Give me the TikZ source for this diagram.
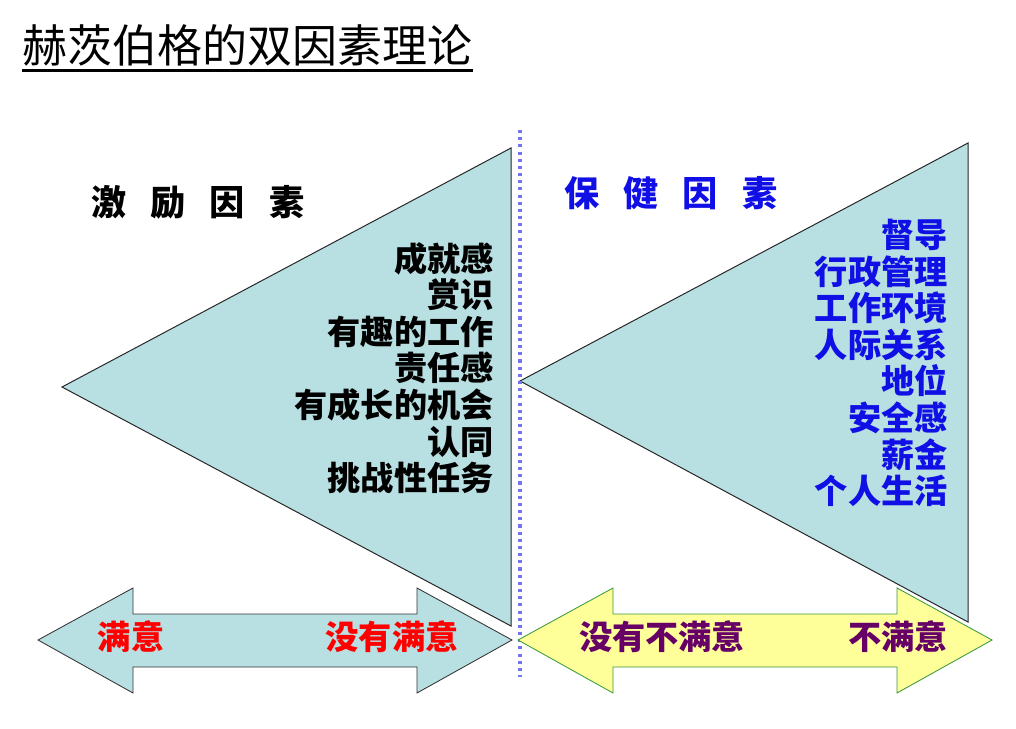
\documentclass[tikz,border=0pt]{standalone}
\usepackage{fontspec}
\setmainfont{Liberation Sans}
\newfontfamily\cjk{Noto Sans CJK SC}
\usepackage{xcolor}
\usetikzlibrary{positioning,calc}

\definecolor{tealfill}{HTML}{B8DFE1}
\definecolor{yellowfill}{HTML}{FFFF99}
\definecolor{arrowgreen}{HTML}{3A9A3A}
\definecolor{hygblue}{HTML}{1010E6}
\definecolor{dotblue}{HTML}{7474EC}
\definecolor{darkpurple}{HTML}{660066}

\begin{document}
\begin{tikzpicture}[
    x=0.025cm, y=-0.025cm,
    font=\cjk\bfseries,
    tri/.style={
        draw=black!85,
        fill=tealfill,
        line width=0.7pt,
        line join=miter
    },
    bigarrow/.style={
        draw=black!80,
        fill=tealfill,
        line width=0.6pt
    },
    yelarrow/.style={
        draw=arrowgreen,
        fill=yellowfill,
        line width=0.6pt
    },
    head/.style={
        font=\cjk\bfseries\fontsize{25}{28}\selectfont,
        inner sep=0pt
    },
    factors/.style={
        font=\cjk\bfseries\fontsize{23.6}{26}\selectfont,
        align=right,
        inner sep=0pt,
        anchor=east
    },
    pole/.style={
        font=\cjk\bfseries\fontsize{23.6}{26}\selectfont,
        inner sep=0pt
    }
]
\useasboundingbox (0,0) rectangle (1016,728);

% title
\node[anchor=base west, inner sep=0pt,
      font=\cjk\mdseries\fontsize{32}{36}\selectfont] (title) at (22,63)
{赫茨伯格的双因素理论};
\draw[line width=2pt] ([yshift=-5.4pt]title.base west) -- ([yshift=-5.4pt]title.base east);

% triangles
\coordinate (mtip) at (62,387);
\coordinate (mtop) at (511,148);
\coordinate (mbot) at (511,626);
\coordinate (htip) at (520,381);
\coordinate (htop) at (968,143);
\coordinate (hbot) at (968,622);
\draw[tri] (mtip) -- (mtop) -- (mbot) -- cycle;
\draw[tri] (htip) -- (htop) -- (hbot) -- cycle;

% separator
\coordinate (sepa) at (520,130);
\coordinate (sepb) at (520,677);
\draw[dotblue, line width=2.2pt, dash pattern=on 2.2pt off 2.9pt] (sepa) -- (sepb);

% headings
\node[head] (motiv) at (198,202) {激\kern17pt 励\kern17pt 因\kern17pt 素};
\node[head, text=hygblue] (hyg) at (671,193) {保\kern17pt 健\kern17pt 因\kern17pt 素};

% factor lists
\node[factors] (mlist) at (494,368)
{成就感\\
赏识\\
有趣的工作\\
责任感\\
有成长的机会\\
认同\\
挑战性任务};

\node[factors, text=hygblue] (hlist) at (948,363)
{督导\\
行政管理\\
工作环境\\
人际关系\\
地位\\
安全感\\
薪金\\
个人生活};

% second row: double arrows
\draw[bigarrow] (38,640) -- (133,588) -- (133,614) -- (417,614) -- (417,588)
    -- (512,640) -- (417,693) -- (417,667) -- (133,667) -- (133,693) -- cycle;
\draw[yelarrow] (518,640) -- (613,588) -- (613,614) -- (897,614) -- (897,588)
    -- (992,640) -- (897,693) -- (897,667) -- (613,667) -- (613,693) -- cycle;

\node[pole, text=red] (sat) at (131,637) {满意};
\node[pole, text=red] (nosat) at (392,637) {没有满意};
\node[pole, text=darkpurple] (nodis) at (662,637) {没有不满意};
\node[pole, text=darkpurple] (dis) at (898,637) {不满意};

\end{tikzpicture}
\end{document}
